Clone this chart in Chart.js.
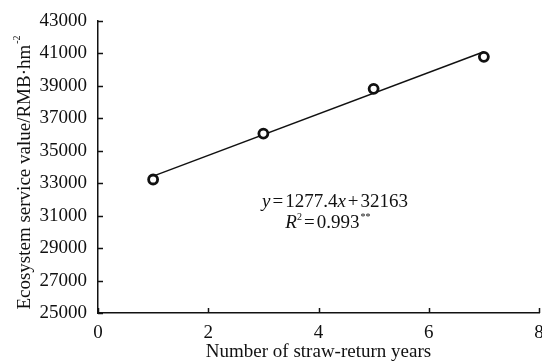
<!DOCTYPE html>
<html>
<head>
<meta charset="utf-8">
<script src="https://cdn.jsdelivr.net/npm/chart.js@4.4.0/dist/chart.umd.min.js"></script>
<style>
  html, body { margin: 0; padding: 0; background: #fff; }
  #wrap { width: 542px; height: 363px; }
</style>
</head>
<body>
<div id="wrap"><canvas id="chart"></canvas></div>
<script>
// Data
const YEARS = [1, 3, 5, 7];
const ESV = [33230, 36060, 38820, 40790];
// Fitted line y = 1277.4x + 32163, end points
const FIT_X = [1, 7];
const FIT_Y = [33440, 41105];
const X_TICKS = [0, 2, 4, 6, 8];
const Y_TICKS = [25000, 27000, 29000, 31000, 33000, 35000, 37000, 39000, 41000, 43000];

const FONT = '"Liberation Serif", "Times New Roman", serif';
const INK = '#111';

// inward tick marks, y-axis title with superscript, and equation text
const extrasPlugin = {
    id: 'extras',
    afterDraw(chart) {
        const ctx = chart.ctx;
        const xs = chart.scales.x;
        const ys = chart.scales.y;
        const area = chart.chartArea;
        ctx.save();
        ctx.strokeStyle = INK;
        ctx.lineWidth = 1.5;
        ctx.beginPath();
        Y_TICKS.forEach(v => {
            const py = Math.round(ys.getPixelForValue(v)) + 0.5;
            ctx.moveTo(area.left, py);
            ctx.lineTo(area.left + 5, py);
        });
        X_TICKS.forEach(v => {
            const px = Math.round(xs.getPixelForValue(v)) + 0.5;
            ctx.moveTo(px, area.bottom);
            ctx.lineTo(px, area.bottom - 5);
        });
        ctx.stroke();

        // y-axis title
        ctx.fillStyle = INK;
        ctx.translate(25, 173);
        ctx.rotate(-Math.PI / 2);
        ctx.font = '19px ' + FONT;
        const main = 'Ecosystem service value/RMB\u00b7hm';
        const wMain = ctx.measureText(main).width;
        ctx.font = '10px ' + FONT;
        const wSup = ctx.measureText('-2').width;
        const start = -(wMain + wSup) / 2;
        ctx.textBaseline = 'middle';
        ctx.textAlign = 'left';
        ctx.font = '19px ' + FONT;
        ctx.fillText(main, start, 0);
        ctx.font = '10px ' + FONT;
        ctx.fillText('-2', start + wMain + 1, -8);
        ctx.restore();

        // equation
        ctx.save();
        ctx.fillStyle = INK;
        ctx.textBaseline = 'alphabetic';
        const drawRuns = (runs, cx, y) => {
            let total = 0;
            runs.forEach(r => { ctx.font = r.f; total += ctx.measureText(r.t).width + (r.dx || 0); });
            let x = cx - total / 2;
            runs.forEach(r => {
                ctx.font = r.f;
                x += (r.dx || 0);
                ctx.fillText(r.t, x, y + (r.dy || 0));
                x += ctx.measureText(r.t).width;
            });
        };
        const n = '19px ' + FONT;
        const it = 'italic 19px ' + FONT;
        const sup = '10px ' + FONT;
        drawRuns([
            { t: 'y', f: it },
            { t: '=', f: n, dx: 2 },
            { t: '1277.4', f: n, dx: 2 },
            { t: 'x', f: it },
            { t: '+', f: n, dx: 2 },
            { t: '32163', f: n, dx: 2 }
        ], xs.getPixelForValue(4.3), 207);
        drawRuns([
            { t: 'R', f: it },
            { t: '2', f: sup, dy: -8 },
            { t: '=', f: n, dx: 2 },
            { t: '0.993', f: n, dx: 2 },
            { t: '**', f: sup, dy: -8, dx: 1 }
        ], xs.getPixelForValue(4.17), 228);
        ctx.restore();
    }
};

new Chart(document.getElementById('chart'), {
    type: 'scatter',
    data: {
        datasets: [{
            label: 'ESV',
            data: YEARS.map((x, i) => ({ x: x, y: ESV[i] })),
            showLine: false,
            pointStyle: 'circle',
            pointRadius: 4.5,
            pointBorderWidth: 2.8,
            pointBorderColor: INK,
            pointBackgroundColor: '#fff',
            order: 0
        }, {
            label: 'Fit',
            data: FIT_X.map((x, i) => ({ x: x, y: FIT_Y[i] })),
            showLine: true,
            borderColor: INK,
            borderWidth: 1.5,
            pointRadius: 0,
            fill: false,
            order: 1
        }]
    },
    options: {
        responsive: true,
        maintainAspectRatio: false,
        animation: false,
        layout: { autoPadding: false, padding: { top: 21, right: 3, left: 0, bottom: 0 } },
        plugins: {
            legend: { display: false },
            tooltip: { enabled: false }
        },
        scales: {
            x: {
                type: 'linear',
                min: 0,
                max: 8,
                afterBuildTicks: scale => { scale.ticks = X_TICKS.map(v => ({ value: v })); },
                grid: { display: false },
                border: { display: true, color: INK, width: 1.5 },
                ticks: {
                    color: INK,
                    font: { family: FONT, size: 19 },
                    padding: 1,
                    callback: v => String(v)
                },
                title: {
                    display: true,
                    text: 'Number of straw-return years',
                    color: INK,
                    font: { family: FONT, size: 19 },
                    padding: { top: 2, bottom: 0 }
                },
                afterFit: scale => {
                    scale.height = 50;
                    scale.paddingLeft = 0;
                    scale.paddingRight = 0;
                }
            },
            y: {
                type: 'linear',
                min: 25000,
                max: 43000,
                afterBuildTicks: scale => { scale.ticks = Y_TICKS.map(v => ({ value: v })); },
                grid: { display: false },
                border: { display: true, color: INK, width: 1.5 },
                ticks: {
                    color: INK,
                    font: { family: FONT, size: 19 },
                    padding: 3,
                    callback: v => String(v)
                },
                afterFit: scale => {
                    scale.width = 98;
                    scale.paddingTop = 0;
                    scale.paddingBottom = 0;
                }
            }
        }
    },
    plugins: [extrasPlugin]
});
</script>
</body>
</html>
